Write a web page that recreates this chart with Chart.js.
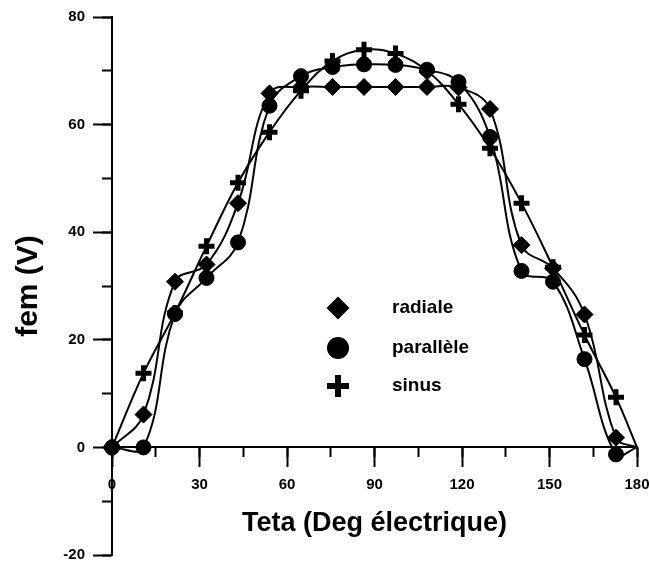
<!DOCTYPE html>
<html lang="fr">
<head>
    <meta charset="UTF-8">
    <title>fem en fonction de Teta</title>
    <script src="https://cdn.jsdelivr.net/npm/chart.js"></script>
    <style>
        html, body {
            margin: 0;
            padding: 0;
            background: #ffffff;
        }
        .chart-box {
            position: relative;
            width: 650px;
            height: 572px;
        }
    </style>
</head>
<body>
    <div class="chart-box">
        <canvas id="femChart"></canvas>
    </div>

    <script>
        // Angle electrique (degres) et fem mesuree pour chaque type d'aimantation
        const teta = [0, 10.8, 21.6, 32.4, 43.2, 54, 64.8, 75.6, 86.4, 97.2, 108, 118.8, 129.6, 140.4, 151.2, 162, 172.8, 180];
        const radiale = [0, 6.1, 30.8, 34.0, 45.4, 65.8, 67.0, 67.0, 67.0, 67.0, 67.0, 66.9, 62.9, 37.6, 33.3, 24.7, 1.8, 0];
        const parallele = [0, 0, 24.8, 31.5, 38.1, 63.5, 69.0, 70.7, 71.2, 71.1, 70.2, 67.9, 57.7, 32.8, 30.8, 16.4, -1.3, 0];
        const sinus = [0, 13.8, 25.0, 37.4, 49.2, 58.6, 66.3, 71.8, 73.9, 73.2, 70.0, 63.8, 55.6, 45.4, 33.5, 20.9, 9.3, 0];

        const xTicks = [0, 30, 60, 90, 120, 150, 180];
        const yTicks = [-20, 0, 20, 40, 60, 80];

        const seriesNames = ['radiale', 'parallèle', 'sinus'];
        const seriesStyles = ['rectRot', 'circle', 'cross'];

        Chart.defaults.font.family = '"Liberation Sans", Arial, sans-serif';
        Chart.defaults.font.weight = 'bold';
        Chart.defaults.color = '#000000';

        function toPoints(values) {
            return teta.map((t, i) => ({ x: t, y: values[i] }));
        }

        // no marker on the closing point at 180 deg
        function markerRadius(size) {
            return ctx => ctx.dataIndex === teta.length - 1 ? 0 : size;
        }

        function makeDataset(label, values, style) {
            const isCross = style === 'cross';
            return {
                label: label,
                data: toPoints(values),
                borderColor: '#000000',
                backgroundColor: '#000000',
                borderWidth: 2,
                tension: 0.4,
                pointStyle: style,
                pointRadius: markerRadius(isCross ? 8 : (style === 'circle' ? 7.5 : 8.5)),
                pointHoverRadius: markerRadius(8),
                pointBorderWidth: isCross ? 5 : 1,
                pointBorderColor: '#000000',
                pointBackgroundColor: '#000000',
                clip: false
            };
        }

        // keep edge labels from shrinking the plot area
        function noEdgePadding(scale) {
            scale.paddingLeft = 0;
            scale.paddingRight = 0;
        }

        // Legend drawn inside the plot area
        const innerLegend = {
            id: 'innerLegend',
            afterDatasetsDraw(chart) {
                const ctx = chart.ctx;
                const mx = 338;
                const tx = 392;
                const rows = [308, 348, 386];
                ctx.save();
                ctx.fillStyle = '#000000';
                seriesStyles.forEach((style, i) => {
                    const y = rows[i];
                    ctx.beginPath();
                    if (style === 'rectRot') {
                        ctx.moveTo(mx, y - 11.5);
                        ctx.lineTo(mx + 11.5, y);
                        ctx.lineTo(mx, y + 11.5);
                        ctx.lineTo(mx - 11.5, y);
                        ctx.closePath();
                        ctx.fill();
                    } else if (style === 'circle') {
                        ctx.arc(mx, y, 11, 0, Math.PI * 2);
                        ctx.fill();
                    } else {
                        ctx.fillRect(mx - 11, y - 3, 22, 6);
                        ctx.fillRect(mx - 3, y - 11, 6, 22);
                    }
                    ctx.font = 'bold 19px "Liberation Sans", Arial, sans-serif';
                    ctx.textAlign = 'left';
                    ctx.textBaseline = 'middle';
                    ctx.fillText(seriesNames[i], tx, y);
                });
                ctx.restore();
            }
        };

        const ctx = document.getElementById('femChart').getContext('2d');
        const femChart = new Chart(ctx, {
            type: 'line',
            data: {
                datasets: [
                    makeDataset(seriesNames[0], radiale, seriesStyles[0]),
                    makeDataset(seriesNames[1], parallele, seriesStyles[1]),
                    makeDataset(seriesNames[2], sinus, seriesStyles[2])
                ]
            },
            options: {
                responsive: true,
                maintainAspectRatio: false,
                animation: false,
                layout: {
                    padding: { left: 0, right: 12, top: 13, bottom: 11.5 }
                },
                plugins: {
                    legend: { display: false },
                    tooltip: { enabled: false }
                },
                scales: {
                    x: {
                        type: 'linear',
                        position: { y: 0 },
                        min: 0,
                        max: 180,
                        afterBuildTicks: scale => {
                            scale.ticks = xTicks.map(v => ({ value: v }));
                        },
                        afterFit: noEdgePadding,
                        ticks: {
                            font: { size: 15, weight: 'bold' },
                            color: '#000000',
                            padding: 9,
                            maxRotation: 0,
                            autoSkip: false
                        },
                        grid: {
                            drawOnChartArea: false,
                            drawTicks: true,
                            tickLength: 19,
                            tickWidth: 2,
                            tickColor: '#000000'
                        },
                        border: { display: true, color: '#000000', width: 2 },
                        title: {
                            display: true,
                            text: 'Teta (Deg électrique)',
                            font: { size: 27, weight: 'bold' },
                            color: '#000000',
                            padding: { top: 5, bottom: 0 }
                        }
                    },
                    xMinor: {
                        type: 'linear',
                        position: { y: 0 },
                        min: 0,
                        max: 180,
                        afterFit: noEdgePadding,
                        ticks: { display: false, stepSize: 15 },
                        grid: {
                            drawOnChartArea: false,
                            tickLength: 10,
                            tickWidth: 2,
                            tickColor: '#000000'
                        },
                        border: { display: false }
                    },
                    y: {
                        type: 'linear',
                        position: 'left',
                        min: -20,
                        max: 80,
                        afterBuildTicks: scale => {
                            scale.ticks = yTicks.map(v => ({ value: v }));
                        },
                        afterFit: scale => {
                            scale.width = 112;
                        },
                        ticks: {
                            font: { size: 15, weight: 'bold' },
                            color: '#000000',
                            padding: 8
                        },
                        grid: {
                            drawOnChartArea: false,
                            tickLength: 19,
                            tickWidth: 2,
                            tickColor: '#000000'
                        },
                        border: { display: true, color: '#000000', width: 2 },
                        title: {
                            display: true,
                            text: 'fem (V)',
                            font: { size: 30, weight: 'bold' },
                            color: '#000000',
                            padding: { top: 11, bottom: 0 }
                        }
                    },
                    yMinor: {
                        type: 'linear',
                        position: { x: 0 },
                        min: -20,
                        max: 80,
                        ticks: { display: false, stepSize: 10 },
                        grid: {
                            drawOnChartArea: false,
                            tickLength: 10,
                            tickWidth: 2,
                            tickColor: '#000000'
                        },
                        border: { display: false }
                    }
                }
            },
            plugins: [innerLegend]
        });
    </script>
</body>
</html>
